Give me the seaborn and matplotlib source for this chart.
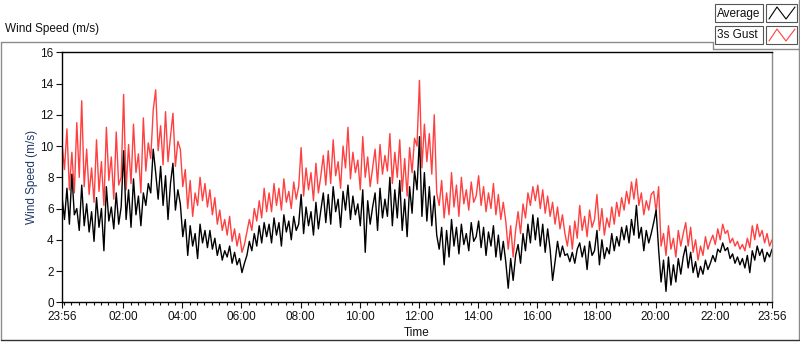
import matplotlib
matplotlib.use("Agg")
import matplotlib.pyplot as plt
import matplotlib.dates as mdates
from matplotlib.lines import Line2D
from matplotlib.patches import Rectangle
import pandas as pd
import seaborn as sns

# dades llegides de la gràfica, una fila per hora (cada 5 minuts des de les 23:56)
gust = [
    10.2, 8.5, 11.1, 7.2, 9.6, 7.0, 11.5, 8.0, 12.9, 7.4, 9.8, 6.9,
    8.6, 6.4, 10.4, 7.1, 9.0, 6.2, 11.2, 7.8, 9.3, 6.6, 10.9, 7.5,
    8.0, 13.3, 7.2, 10.1, 7.6, 11.4, 8.3, 9.5, 7.0, 11.8, 8.4, 10.2,
    9.2, 12.3, 13.6, 9.7, 11.3, 8.8, 12.2, 9.0, 10.6, 12.1, 8.7, 10.3,
    9.8, 7.4, 8.5, 6.0, 7.8, 5.5, 7.0, 6.2, 8.0, 6.5, 7.6, 6.1,
    7.2, 5.6, 6.7, 5.0, 5.9, 4.6, 5.3, 4.3, 5.5, 3.9, 4.7, 3.6,
    4.4, 3.2, 3.7, 4.5, 5.3, 4.6, 6.0, 5.2, 6.5, 5.4, 7.3, 5.8,
    7.0, 5.8, 7.6, 6.2, 7.3, 5.9, 7.9, 6.4, 7.1, 6.0, 7.7, 6.6,
    7.4, 9.9, 6.8, 8.6, 7.2, 8.3, 6.5, 8.9, 7.0, 8.1, 9.4, 7.5,
    9.7, 7.6, 10.4, 8.1, 9.0, 7.3, 10.0, 8.6, 11.2, 7.9, 9.6, 8.3,
    9.1, 7.2, 10.6, 8.0, 9.3, 7.4, 8.6, 9.8, 7.6, 10.1, 8.2, 9.4,
    8.4, 10.8, 7.6, 9.6, 8.0, 10.4, 7.1, 9.2, 6.8, 9.9, 8.3, 10.5,
    10.0, 14.2, 8.6, 11.4, 9.0, 10.8, 8.2, 12.0, 7.0, 6.2, 7.8, 5.4,
    7.0, 5.6, 8.3, 6.1, 7.5, 5.5, 8.0, 6.3, 7.2, 5.9, 7.7, 6.4,
    6.8, 8.1, 6.2, 7.4, 5.8, 7.0, 6.0, 7.6, 5.6, 6.9, 5.3, 6.4,
    5.2, 3.4, 4.9, 2.9, 4.6, 5.8, 4.4, 6.3, 5.4, 7.0, 6.2, 7.4,
    6.5, 7.5, 6.0, 7.2, 5.7, 6.8, 5.5, 6.4, 5.0, 6.1, 4.7, 5.6,
    4.4, 3.6, 4.9, 3.4, 5.2, 4.1, 6.2, 4.6, 5.5, 4.2, 5.9, 4.8,
    5.3, 6.9, 4.6, 6.0, 4.3, 5.4, 4.8, 6.1, 5.0, 6.4, 5.5, 6.7,
    5.9, 7.1, 6.3, 7.7, 6.6, 7.9, 6.2, 7.0, 5.6, 6.5, 5.9, 6.9,
    7.1, 5.8, 7.4, 3.6, 4.4, 3.0, 4.9, 3.4, 4.1, 2.9, 4.6, 3.6,
    4.4, 5.1, 3.6, 4.8, 3.2, 4.0, 2.7, 3.6, 3.0, 4.2, 3.4, 3.9,
    4.3, 3.7, 4.7, 4.0, 5.0, 4.4, 4.6, 3.8, 4.1, 3.6, 3.9, 3.4,
    3.7, 3.3, 4.1, 3.5, 4.9, 4.0, 5.0, 4.2, 4.6, 3.8, 4.4, 3.6,
    4.0,
]
average = [
    6.8, 5.3, 7.3, 5.0, 8.2, 5.6, 6.0, 4.6, 7.5, 4.9, 6.3, 4.5,
    5.8, 3.9, 6.7, 4.8, 6.0, 3.3, 7.4, 5.2, 6.1, 4.7, 7.0, 5.0,
    6.1, 9.7, 5.3, 7.2, 4.8, 7.9, 5.6, 6.8, 4.9, 7.0, 6.2, 7.6,
    7.0, 9.8, 8.3, 6.6, 8.7, 6.2, 8.1, 5.3, 7.6, 8.9, 5.9, 7.2,
    6.3, 4.2, 5.3, 3.0, 4.9, 3.6, 4.4, 2.8, 5.0, 3.8, 4.6, 3.5,
    4.6, 3.4, 4.1, 3.0, 3.7, 2.7, 3.3, 2.9, 3.6, 2.5, 3.2, 2.4,
    2.8, 1.9, 2.5, 3.0, 3.9, 3.3, 4.4, 3.6, 4.9, 3.8, 5.1, 4.2,
    5.0, 3.8, 5.4, 4.3, 5.1, 3.6, 5.6, 4.5, 5.2, 4.0, 5.5, 4.6,
    5.0, 6.9, 4.4, 6.1, 4.9, 5.8, 4.3, 6.4, 4.7, 5.9, 7.0, 5.1,
    6.9, 5.0, 7.4, 5.8, 6.6, 4.8, 7.1, 5.9, 7.5, 5.3, 6.8, 5.6,
    6.3, 4.9, 7.2, 3.2, 6.5, 5.0, 6.1, 7.0, 4.6, 7.3, 5.4, 6.6,
    5.5, 8.0, 4.9, 7.2, 5.4, 7.8, 4.6, 6.6, 4.2, 7.4, 5.7, 8.4,
    7.2, 10.6, 5.5, 8.3, 5.2, 7.4, 4.9, 6.8, 4.3, 3.4, 4.8, 2.4,
    4.6, 2.9, 5.3, 3.6, 4.8, 3.1, 5.0, 3.7, 4.4, 3.3, 5.1, 3.9,
    4.2, 5.2, 3.5, 4.8, 3.0, 4.5, 3.6, 4.9, 2.9, 4.3, 2.7, 3.9,
    2.6, 0.9, 2.8, 1.4, 3.0, 3.7, 2.5, 4.4, 3.3, 5.0, 3.8, 5.6,
    4.0, 5.4, 3.6, 5.0, 3.2, 4.7, 3.4, 1.4, 2.6, 3.9, 2.9, 3.6,
    3.0, 3.1, 2.6, 3.2, 2.5, 3.4, 3.8, 2.9, 3.6, 2.1, 3.9, 3.0,
    3.3, 4.6, 2.4, 4.0, 2.8, 3.5, 3.1, 4.4, 3.3, 4.2, 3.6, 4.8,
    4.0, 4.9, 3.8, 5.3, 4.3, 6.2, 4.1, 4.8, 3.3, 4.6, 3.8, 4.4,
    5.1, 5.9, 3.4, 1.3, 2.7, 0.7, 2.9, 1.1, 2.4, 1.3, 2.8, 1.8,
    2.9, 3.6, 2.2, 3.2, 1.9, 2.6, 1.6, 2.3, 1.8, 2.7, 2.1, 2.5,
    3.0, 2.6, 3.4, 3.2, 3.8, 3.3, 3.5, 2.8, 3.1, 2.5, 2.9, 2.4,
    2.8, 2.2, 3.0, 1.9, 3.3, 2.7, 3.6, 3.0, 3.4, 2.6, 3.2, 2.9,
    3.4,
]
start = "2020-01-01 23:56"
end = "2020-01-02 23:56"
y_ticks = [0, 2, 4, 6, 8, 10, 12, 14, 16]
series_names = ["Average", "3s Gust"]
series_colors = ["#000000", "#ff4040"]

times = pd.date_range(start, periods=len(gust), freq="5min")
df = pd.DataFrame({"Time": times, "Gust": gust, "Average": average})

sns.set_style("white")
plt.rcParams["font.family"] = ["Liberation Sans", "DejaVu Sans"]

fig = plt.figure(figsize=(8, 3.42), dpi=100)
ax = fig.add_axes([62 / 800, 1 - 302.3 / 342, 710 / 800, 250 / 342])

# primer la ratxa (vermell) i a sobre la mitjana (negre)
sns.lineplot(data=df, x="Time", y="Gust", color=series_colors[1], lw=1.0,
             estimator=None, ax=ax)
sns.lineplot(data=df, x="Time", y="Average", color=series_colors[0], lw=1.0,
             estimator=None, ax=ax)

ax.set_xlim(pd.Timestamp(start), pd.Timestamp(end))
ax.set_ylim(0, 16)
ax.set_yticks(y_ticks)

major = [pd.Timestamp(start)] + list(pd.date_range("2020-01-02 02:00", "2020-01-02 22:00", freq="2h")) + [pd.Timestamp(end)]
ax.set_xticks(major)
ax.xaxis.set_major_formatter(mdates.DateFormatter("%H:%M"))
ax.xaxis.set_minor_locator(mdates.MinuteLocator(byminute=[0, 15, 30, 45]))

ax.tick_params(axis="both", which="major", direction="out", length=4, width=0.8,
               labelsize=8.5, colors="#111111", bottom=True, left=True, pad=2)
ax.tick_params(axis="x", which="minor", direction="out", length=2.5, width=0.8,
               bottom=True, color="#111111")
for side in ["left", "bottom", "top"]:
    ax.spines[side].set_color("#000000")
    ax.spines[side].set_linewidth(1)
ax.spines["right"].set_color("#8a8a8a")
ax.spines["right"].set_linewidth(1)

ax.set_xlabel("Time", fontsize=8.5, color="#111111", labelpad=3)
ax.set_ylabel("Wind Speed (m/s)", fontsize=8.5, color="#1f3a68", labelpad=2)

# marc exterior i títol
W, H = 800, 342
def fx(px):
    return px / W
def fy(py):
    return 1 - py / H

frame_col = "#8c8c8c"
fig.add_artist(Line2D([fx(0.5), fx(0.5)], [fy(42), fy(340)], color=frame_col, lw=1))
fig.add_artist(Line2D([fx(0.5), fx(713)], [fy(42), fy(42)], color=frame_col, lw=1))
fig.add_artist(Line2D([fx(713), fx(713)], [fy(42), fy(48.5)], color=frame_col, lw=1))
fig.add_artist(Line2D([fx(713), fx(799)], [fy(48.5), fy(48.5)], color=frame_col, lw=1))
fig.add_artist(Line2D([fx(798.5), fx(798.5)], [fy(0), fy(340)], color=frame_col, lw=1))
fig.add_artist(Line2D([fx(0.5), fx(799)], [fy(340), fy(340)], color="#333333", lw=1))

fig.text(fx(5), fy(32), "Wind Speed (m/s)", fontsize=8.5, color="#111111",
         ha="left", va="baseline")

# llegenda
rows = [(4, 22), (26, 44)]
for name, col, (top, bot) in zip(series_names, series_colors, rows):
    fig.add_artist(Rectangle((fx(715), fy(bot)), fx(763) - fx(715), fy(top) - fy(bot),
                             facecolor="white", edgecolor="#555555", lw=0.8))
    fig.add_artist(Rectangle((fx(766), fy(bot)), fx(797) - fx(766), fy(top) - fy(bot),
                             facecolor="white", edgecolor="#555555", lw=0.8))
    fig.text(fx(717), fy((top + bot) / 2 + 0.5), name, fontsize=8.5, color="#111111",
             ha="left", va="center")
    zx = [769, 777, 786, 795]
    zy = [bot - 3, top + 3, bot - 3, top + 3]
    fig.add_artist(Line2D([fx(v) for v in zx], [fy(v) for v in zy], color=col, lw=0.8))

fig.savefig("out.png", dpi=100, facecolor="white")
